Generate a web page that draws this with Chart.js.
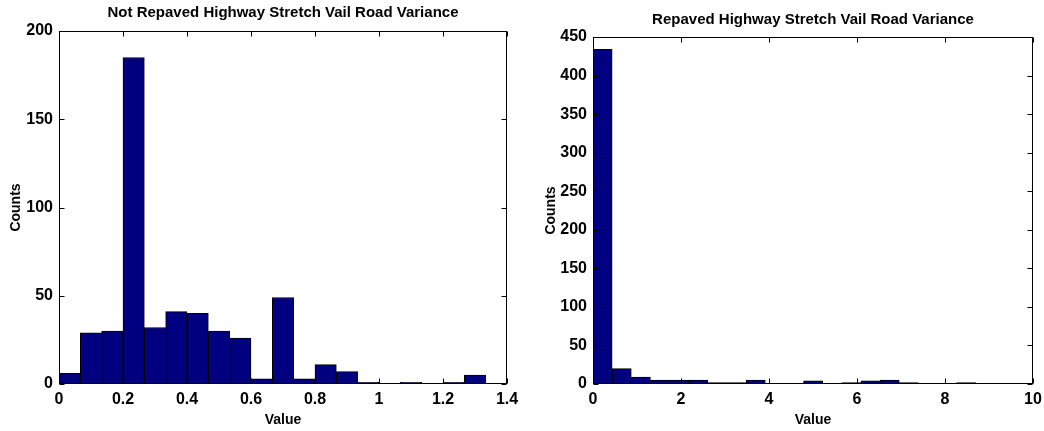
<!DOCTYPE html>
<html>
<head>
<meta charset="utf-8">
<script src="https://cdn.jsdelivr.net/npm/chart.js@4.4.1/dist/chart.umd.min.js"></script>
<style>
  body { margin: 0; background: #fff; }
  #wrap { position: relative; width: 1044px; height: 431px; }
  canvas { position: absolute; top: 0; }
  #leftChart { left: 0; }
  #rightChart { left: 520px; }
</style>
</head>
<body>
<div id="wrap">
  <canvas id="leftChart" width="520" height="431"></canvas>
  <canvas id="rightChart" width="524" height="431"></canvas>
</div>
<script>
// 20 equal-width bins per histogram
const leftTitle = 'Not Repaved Highway Stretch Vail Road Variance';
const leftCounts = [6, 29, 30, 185, 32, 41, 40, 30, 26, 3, 49, 3, 11, 7, 1, 0, 1, 0, 1, 5];
const leftRange = [0, 1.3333];
const leftXTicks = [0, 0.2, 0.4, 0.6, 0.8, 1, 1.2, 1.4];
const leftYTicks = [0, 50, 100, 150, 200];

const rightTitle = 'Repaved Highway Stretch Vail Road Variance';
const rightCounts = [434, 20, 9, 5, 5, 5, 2, 2, 5, 0, 1, 4, 0, 2, 4, 5, 2, 1, 1, 2];
const rightRange = [0, 8.7];
const rightXTicks = [0, 2, 4, 6, 8, 10];
const rightYTicks = [0, 50, 100, 150, 200, 250, 300, 350, 400, 450];

const FONT = '"Liberation Sans", Arial, Helvetica, sans-serif';

// box around the plot with short inward ticks on all four sides
const boxAxes = {
  id: 'boxAxes',
  afterDatasetsDraw(chart) {
    const { ctx, chartArea: a, scales: { x, y } } = chart;
    const L = Math.round(a.left) + 0.5, R = Math.round(a.right) - 0.5;
    const T = Math.round(a.top) + 0.5, B = Math.round(a.bottom) - 0.5;
    ctx.save();
    ctx.strokeStyle = '#000';
    ctx.lineWidth = 1;
    ctx.beginPath();
    x.ticks.forEach(t => {
      const px = Math.round(x.getPixelForValue(t.value)) + 0.5;
      ctx.moveTo(px, B); ctx.lineTo(px, B - 5);
      ctx.moveTo(px, T); ctx.lineTo(px, T + 5);
    });
    y.ticks.forEach(t => {
      const py = Math.round(y.getPixelForValue(t.value)) + 0.5;
      ctx.moveTo(L, py); ctx.lineTo(L + 5, py);
      ctx.moveTo(R, py); ctx.lineTo(R - 5, py);
    });
    ctx.stroke();
    ctx.strokeRect(L, T, R - L, B - T);
    ctx.restore();
  }
};

function makeHist(id, cfg) {
  const n = cfg.counts.length;
  const w = (cfg.range[1] - cfg.range[0]) / n;
  const points = cfg.counts.map((c, i) => ({ x: cfg.range[0] + (i + 0.5) * w, y: c }));
  const xt = cfg.xTicks, yt = cfg.yTicks;

  return new Chart(document.getElementById(id), {
    type: 'bar',
    data: {
      datasets: [{
        data: points,
        backgroundColor: '#000080',
        borderColor: '#000',
        borderWidth: 1,
        borderSkipped: false,
        barPercentage: 1,
        categoryPercentage: 1
      }]
    },
    options: {
      responsive: false,
      animation: false,
      layout: { padding: { left: 0, right: cfg.padRight, top: 0, bottom: 0 } },
      plugins: {
        legend: { display: false },
        tooltip: { enabled: false },
        title: {
          display: true,
          fullSize: false,
          text: cfg.title,
          color: '#000',
          font: { family: FONT, size: 15, weight: 'bold' },
          padding: cfg.titlePad
        }
      },
      scales: {
        x: {
          type: 'linear',
          offset: false,
          min: xt[0],
          max: xt[xt.length - 1],
          afterBuildTicks: s => { s.ticks = xt.map(v => ({ value: v })); },
          afterFit: s => { s.height = 47; s.paddingLeft = 0; s.paddingRight = 0; },
          grid: { display: false, drawTicks: false, offset: false },
          border: { display: false },
          ticks: {
            color: '#000',
            font: { family: FONT, size: 16, weight: 'bold' },
            padding: 6,
            maxRotation: 0,
            callback: v => String(v)
          },
          title: {
            display: true,
            text: 'Value',
            color: '#000',
            font: { family: FONT, size: 14, weight: 'bold' },
            padding: { top: 0, bottom: 2 }
          }
        },
        y: {
          type: 'linear',
          min: yt[0],
          max: yt[yt.length - 1],
          afterBuildTicks: s => { s.ticks = yt.map(v => ({ value: v })); },
          afterFit: s => { s.width = cfg.yWidth; s.paddingTop = 0; s.paddingBottom = 0; },
          grid: { display: false, drawTicks: false },
          border: { display: false },
          ticks: {
            color: '#000',
            font: { family: FONT, size: 16, weight: 'bold' },
            padding: 6,
            callback: v => String(v)
          },
          title: {
            display: true,
            text: 'Counts',
            color: '#000',
            font: { family: FONT, size: 14, weight: 'bold' },
            padding: { top: cfg.countsPad, bottom: 0 }
          }
        }
      }
    },
    plugins: [boxAxes]
  });
}

makeHist('leftChart', {
  title: leftTitle, counts: leftCounts, range: leftRange,
  xTicks: leftXTicks, yTicks: leftYTicks,
  yWidth: 59, padRight: 13, countsPad: 7.6,
  titlePad: { top: 4, bottom: 9 }
});

makeHist('rightChart', {
  title: rightTitle, counts: rightCounts, range: rightRange,
  xTicks: rightXTicks, yTicks: rightYTicks,
  yWidth: 73, padRight: 11, countsPad: 22.6,
  titlePad: { top: 11, bottom: 8 }
});
</script>
</body>
</html>
